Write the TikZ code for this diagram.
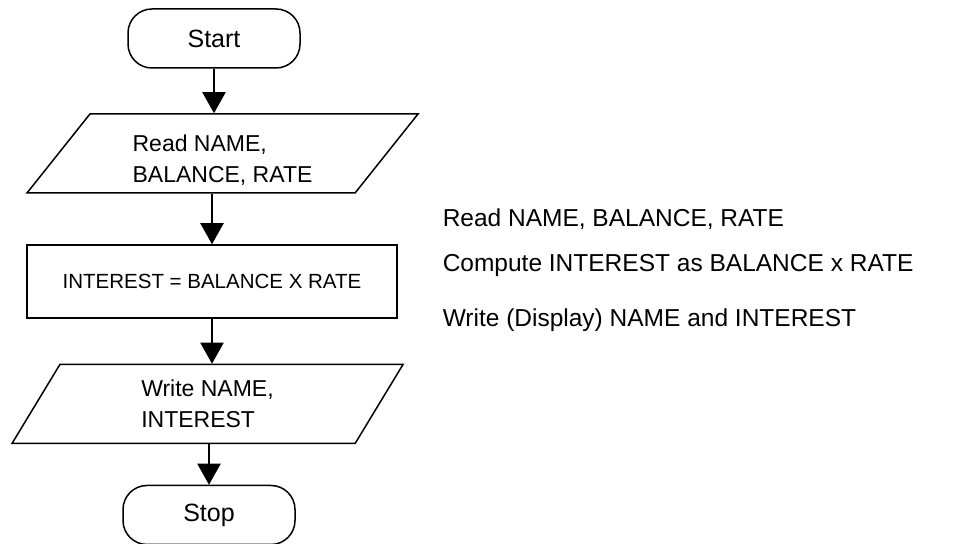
\documentclass[tikz,border=0pt]{standalone}
\usepackage{fontspec}
\setmainfont{Liberation Sans}
\usetikzlibrary{shapes.geometric,arrows.meta}
\tikzset{flowpic/.style={x=0.5pt,y=-0.5pt,line width=0.75pt}}
\tikzset{term/.style={draw,rectangle,rounded corners=12pt,minimum width=86pt,minimum height=29.5pt,inner sep=0pt,font=\fontsize{12.5}{15}\selectfont},
         io/.style={draw,trapezium,trapezium left angle=45,trapezium right angle=135,trapezium stretches body,
                    minimum width=195.5pt,minimum height=39.5pt,inner sep=0pt,align=left,font=\fontsize{11.5}{15.5}\selectfont},
         proc/.style={draw,rectangle,minimum width=185pt,minimum height=36.5pt,inner sep=0pt,font=\fontsize{10.25}{12}\selectfont},
         flow/.style={-{Triangle[width=11.5pt,length=10.5pt]},line width=1pt},
         note/.style={anchor=base west,inner sep=0pt,font=\fontsize{12.25}{15}\selectfont}}

\begin{document}
\begin{tikzpicture}[flowpic]
    \useasboundingbox (0,0) rectangle (960,544);
    \node[term] (start) at (214,38.5)    {Start};
    \node[io]   (rd)    at (222.5,153.5) {\rule{0pt}{14.5pt}Read NAME,\\BALANCE, RATE};
    \node[proc] (calc)  at (212,281.5)   {INTEREST = BALANCE X RATE};
    \node[io]   (wr)    at (207.5,404)   {Write NAME,\\INTEREST};
    \node[term] (stop)  at (209,515)     {Stop};
    \draw[flow] (start.south) -- (start.south |- rd.north);
    \draw[flow] (calc.north |- rd.south) -- (calc.north);
    \draw[flow] (calc.south) -- (calc.south |- wr.north);
    \draw[flow] (stop.north |- wr.south) -- (stop.north);
    % steps in words
    \node[note] (n1) at (442,227) {Read NAME, BALANCE, RATE};
    \node[note] (n2) at (442,272) {Compute INTEREST as BALANCE x RATE};
    \node[note] (n3) at (442,327) {Write (Display) NAME and INTEREST};
\end{tikzpicture}
\end{document}
